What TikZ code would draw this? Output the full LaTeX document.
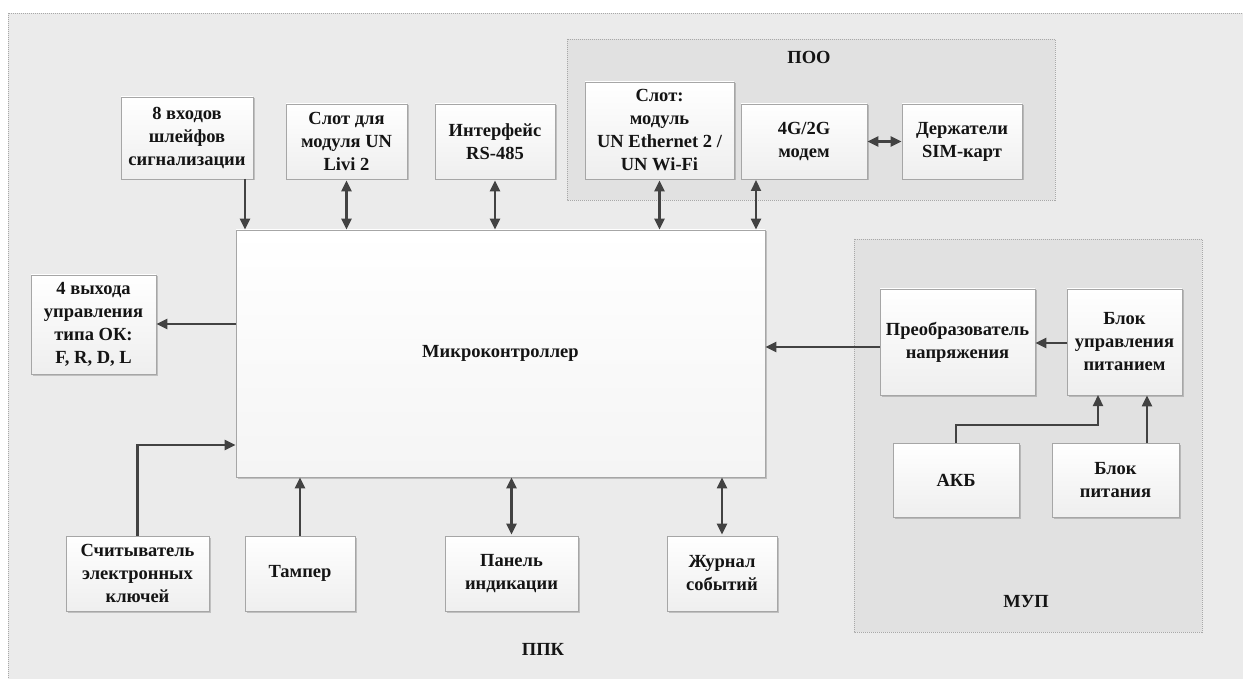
\documentclass[tikz,border=0pt]{standalone}
\usepackage{fontspec}
\setmainfont{Liberation Serif}
\usetikzlibrary{arrows.meta,shadows}
\definecolor{bgc}{HTML}{EBEBEB}
\definecolor{grpc}{HTML}{E1E1E1}
\definecolor{framec}{HTML}{A8A8A8}
\definecolor{boxline}{HTML}{A6A6A6}
\definecolor{arrc}{HTML}{424242}
\definecolor{txtc}{HTML}{141414}
\tikzset{
  blk/.style={draw=boxline, line width=0.8pt, top color=white, bottom color=gray!13,
    align=center, text=txtc, font=\fontsize{18.5}{23}\selectfont\bfseries,
    inner sep=0pt, drop shadow={shadow xshift=1.5pt, shadow yshift=-1.5pt, fill=black, opacity=0.18}},
  grp/.style={fill=grpc, draw=framec, line width=0.6pt, dash pattern=on 1pt off 1pt},
  lbl/.style={text=txtc, font=\fontsize{18.5}{23}\selectfont\bfseries},
  arr/.style={draw=arrc, line width=2.2pt, -{Triangle[length=11pt,width=10pt]}},
  darr/.style={draw=arrc, line width=2.2pt, {Triangle[length=11pt,width=10pt]}-{Triangle[length=11pt,width=10pt]}},
}
\newcommand{\bx}[6]{\node[blk, minimum width=#4pt, minimum height=#5pt] (#1) at (#2,#3) {#6};}
\begin{document}
\begin{tikzpicture}[x=1pt,y=-1pt]
\useasboundingbox (0,0) rectangle (1243,679);
\clip (0,0) rectangle (1243,679);
% outer frame
\fill[white] (0,0) rectangle (1243,679);
\draw[grp, fill=bgc] (8,13) rectangle (1260,700);
% groups
\draw[grp] (567,39) rectangle (1055,200);
\draw[grp] (854,239) rectangle (1202,632);
\node[lbl] (poo) at (809,57) {ПОО};
\node[lbl] (ppk) at (543,649) {ППК};
\node[lbl] (mup) at (1026,602) {МУП};
% boxes
\bx{in8}{187}{138}{132}{82}{8 входов\\шлейфов\\сигнализации}
\bx{livi}{346.5}{141.5}{121}{75}{Слот для\\модуля UN\\Livi 2}
\bx{rs}{495}{141.5}{120}{75}{Интерфейс\\RS-485}
\bx{slot}{659.5}{130.5}{149}{97}{Слот:\\модуль\\UN Ethernet 2 /\\UN Wi-Fi}
\bx{modem}{804}{141.5}{126}{75}{4G/2G\\модем}
\bx{sim}{962}{141.5}{120}{75}{Держатели\\SIM-карт}
\node[blk, minimum width=529pt, minimum height=247pt, top color=white, bottom color=gray!8] (mc) at (500.5,353.5) {Микроконтроллер};
\bx{out4}{93.5}{324.5}{125}{99}{4 выхода\\управления\\типа ОК:\\F, R, D, L}
\bx{reader}{137.5}{573.5}{143}{75}{Считыватель\\электронных\\ключей}
\bx{tamper}{300}{573.5}{110}{75}{Тампер}
\bx{panel}{511.5}{573.5}{133}{75}{Панель\\индикации}
\bx{journal}{722}{573.5}{110}{75}{Журнал\\событий}
\bx{conv}{957.5}{342}{155}{106}{Преобразователь\\напряжения}
\bx{bup}{1124.5}{342}{115}{106}{Блок\\управления\\питанием}
\bx{akb}{956}{480}{126}{74}{АКБ}
\bx{bp}{1115.5}{480}{127}{74}{Блок\\питания}
% connectors
\coordinate (a1) at (245,179);
\draw[arr] (a1) -- (a1 |- mc.north);
\draw[darr] ([yshift=-1pt]livi.south) -- (livi.south |- mc.north);
\draw[darr] ([yshift=-1pt]rs.south) -- (rs.south |- mc.north);
\draw[darr] ([yshift=-1pt]slot.south) -- (slot.south |- mc.north);
\coordinate (a2) at (756,180);
\draw[darr] (a2) -- (a2 |- mc.north);
\draw[darr] (modem.east) -- (sim.west);
\coordinate (a3) at (236,324);
\draw[arr] (a3) -- (a3 -| out4.east);
\draw[arr] (reader.north) |- (mc.west |- 0,445);
\draw[arr] (tamper.north) -- (tamper.north |- mc.south);
\draw[darr] ([yshift=1pt]panel.north) -- (panel.north |- mc.south);
\draw[darr] ([yshift=1pt]journal.north) -- (journal.north |- mc.south);
\coordinate (a4) at (880,347);
\draw[arr] (a4) -- (a4 -| mc.east);
\coordinate (a5) at (1067,343);
\draw[arr] (a5) -- (a5 -| conv.east);
\coordinate (a6) at (1098,395);
\draw[arr] (akb.north) |- (1098,425) -- (a6);
\coordinate (a7) at (1147,443);
\draw[arr] (a7) -- (a7 |- bup.south);
\end{tikzpicture}
\end{document}
